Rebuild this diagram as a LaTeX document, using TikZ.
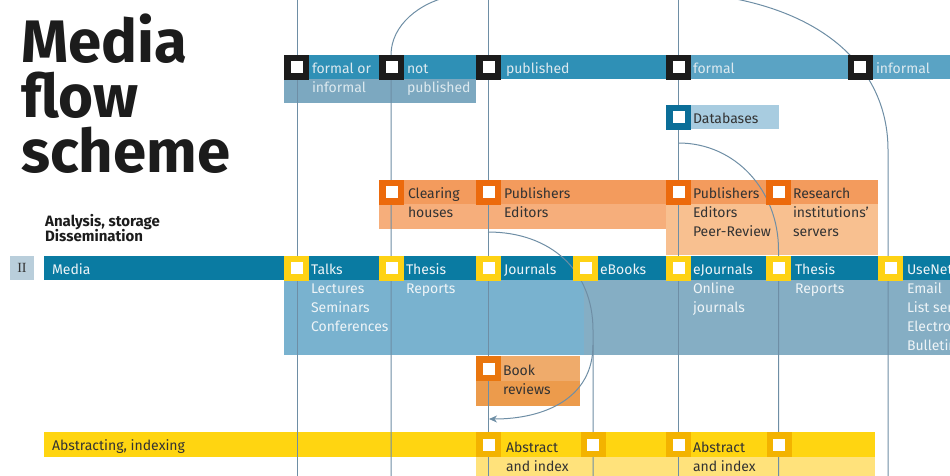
\documentclass[tikz,border=0pt]{standalone}
\usepackage{fontspec}
\setmainfont{Fira Sans}
\newfontfamily\romanfont{Liberation Serif}
\usetikzlibrary{arrows.meta}
\definecolor{linec}{HTML}{6E8EA5}
\definecolor{mediabar}{HTML}{0A7BA2}
\definecolor{topA}{HTML}{2F90B6}
\definecolor{topB}{HTML}{5AA3C4}
\definecolor{toppanel}{HTML}{7CA8C0}
\definecolor{blacksq}{HTML}{1C1C1C}
\definecolor{dbsq}{HTML}{0B6E98}
\definecolor{dbpanel}{HTML}{A8CCE0}
\definecolor{orsq}{HTML}{EC6A0C}
\definecolor{orbar}{HTML}{F39B5D}
\definecolor{orlight}{HTML}{F6AE7B}
\definecolor{orlighter}{HTML}{F8C090}
\definecolor{booksq}{HTML}{E9760E}
\definecolor{bookA}{HTML}{EFAB6B}
\definecolor{bookB}{HTML}{EC9B4C}
\definecolor{ysq}{HTML}{FED214}
\definecolor{mpanelA}{HTML}{79B2CF}
\definecolor{mpanelB}{HTML}{85AEC4}
\definecolor{absbarcol}{HTML}{FFD511}
\definecolor{ysqd}{HTML}{F3B300}
\definecolor{ylight}{HTML}{FFE27B}
\definecolor{iibox}{HTML}{B9CEDB}
\definecolor{darktext}{HTML}{333333}
\definecolor{lighttext}{HTML}{EEF4F7}
\definecolor{toptext}{HTML}{DCE9EF}
\begin{document}
\begin{tikzpicture}[x=1pt,y=-1pt,
  sq/.style={minimum size=25pt, inner sep=0pt, outer sep=0pt, fill=#1, draw=none,
    path picture={\fill[white] ([xshift=-6pt,yshift=-6pt]path picture bounding box.center) rectangle ([xshift=6pt,yshift=6pt]path picture bounding box.center);}},
  txt/.style={anchor=base west, inner sep=0pt, outer sep=0pt, font=\fontsize{14}{17}\selectfont},
  light/.style={txt, text=lighttext},
  toplbl/.style={txt, text=toptext},
  dark/.style={txt, text=darktext},
  flow/.style={draw=linec, line width=1pt}]
\useasboundingbox (0,0) rectangle (950,475);
\clip (0,0) rectangle (950,475);

% ---------- bars and panels ----------
\fill[topA] (309,55) rectangle (666,79);
\fill[topB] (691,55) rectangle (950,79);
\fill[toppanel] (284,79) rectangle (476,103);
\fill[dbpanel] (691,105) rectangle (779,129);
\fill[orbar] (379,180) rectangle (878,204);
\fill[orlight] (379,204) rectangle (666,229);
\fill[orlighter] (666,204) rectangle (878,255);
\fill[mediabar] (44,256) rectangle (950,280);
\fill[mpanelA] (284,280) rectangle (584,355);
\fill[mpanelB] (584,280) rectangle (950,355);
\fill[bookA] (501,356) rectangle (580,381);
\fill[bookB] (476,381) rectangle (580,406);
\fill[fill=absbarcol] (44,432) rectangle (875,457);
\fill[ylight] (476,457) rectangle (875,480);

% ---------- connector end points ----------
\coordinate (aT) at (297,0);   \coordinate (aB) at (297,480);
\coordinate (bS) at (391,55);  \coordinate (bT) at (452,-4); \coordinate (bB) at (391,480);
\coordinate (cT) at (488,0);   \coordinate (cB) at (488,480);
\coordinate (eT) at (678.5,0); \coordinate (eB) at (678.5,480);
\coordinate (gT) at (736,-1);  \coordinate (gM) at (888,150); \coordinate (gB) at (888,480);
\coordinate (fS) at (678.5,143); \coordinate (fM) at (778.5,250); \coordinate (fB) at (778.5,480);
\coordinate (dS) at (488,232); \coordinate (dM) at (593,330); \coordinate (dB) at (593,480);
\coordinate (dK) at (593,345); \coordinate (dA) at (489,419);

% ---------- connectors ----------
\draw[flow] (aT) -- (aB);
\draw[flow] (bT) .. controls (420,2) and (391,25) .. (bS) -- (bB);
\draw[flow] (cT) -- (cB);
\draw[flow] (eT) -- (eB);
\draw[flow] (gT) .. controls (840,20) and (888,80) .. (gM) -- (gB);
\draw[flow] (fS) .. controls (735,143) and (778.5,190) .. (fM) -- (fB);
\draw[flow] (dS) .. controls (550,232) and (593,270) .. (dM) -- (dB);
\draw[flow,-{Stealth[length=8pt,width=7pt,inset=2.5pt]}] (dK) .. controls (593,398) and (545,419) .. (dA);

% ---------- squares ----------
\node[sq=blacksq] (sFormalOr) at (296.5,67) {};
\node[sq=blacksq] (sNot) at (391.5,67) {};
\node[sq=blacksq] (sPublished) at (488.5,67) {};
\node[sq=blacksq] (sFormal) at (678.5,67) {};
\node[sq=blacksq] (sInformal) at (860,67) {};
\node[sq=dbsq] (sDatabases) at (678.5,117) {};
\node[sq=orsq] (sClearing) at (391.5,192) {};
\node[sq=orsq] (sPub1) at (488.5,192) {};
\node[sq=orsq] (sPub2) at (678.5,192) {};
\node[sq=orsq] (sResearch) at (778.5,192) {};
\node[sq=ysq] (sTalks) at (296.5,268) {};
\node[sq=ysq] (sThesis1) at (391.5,268) {};
\node[sq=ysq] (sJournals) at (488.5,268) {};
\node[sq=ysq] (sEBooks) at (585.5,268) {};
\node[sq=ysq] (sEJournals) at (678.5,268) {};
\node[sq=ysq] (sThesis2) at (778.5,268) {};
\node[sq=ysq] (sUseNet) at (890.5,268) {};
\node[sq=booksq] (sBook) at (488.5,368.5) {};
\node[sq=ysqd] (sAbs1) at (488.5,444.5) {};
\node[sq=ysqd] (sAbs2) at (593,444.5) {};
\node[sq=ysqd] (sAbs3) at (678.5,444.5) {};
\node[sq=ysqd] (sAbs4) at (779,444.5) {};

% ---------- title ----------
\node[anchor=base west, inner sep=0pt, font=\bfseries\fontsize{60}{60}\selectfont, text=blacksq] (title1) at (21,62) {Media};
\node[anchor=base west, inner sep=0pt, font=\bfseries\fontsize{60}{60}\selectfont, text=blacksq] (title2) at (21,117) {flow};
\node[anchor=base west, inner sep=0pt, font=\bfseries\fontsize{60}{60}\selectfont, text=blacksq] (title3) at (21,172) {scheme};
\node[anchor=base west, inner sep=0pt, font=\bfseries\fontsize{15}{17}\selectfont, text=blacksq] (sub1) at (45,226) {Analysis, storage};
\node[anchor=base west, inner sep=0pt, font=\bfseries\fontsize{15}{17}\selectfont, text=blacksq] (sub2) at (45,241) {Dissemination};
\node[fill=iibox, minimum width=24pt, minimum height=24pt, inner sep=0pt, font=\romanfont\fontsize{14}{14}\selectfont, text=darktext] (ii) at (22,268) {II};

% ---------- top row texts ----------
\node[toplbl] (tFormalOr) at (312,73) {formal or};
\node[toplbl] (tInformal1) at (312,92) {informal};
\node[toplbl] (tNot) at (407,73) {not};
\node[toplbl] (tNotPub) at (407,92) {published};
\node[toplbl] (tPublished) at (506,73) {published};
\node[toplbl] (tFormal) at (693,73) {formal};
\node[toplbl] (tInformal) at (876,73) {informal};
\node[dark] (tDatabases) at (693,123) {Databases};

% ---------- orange row texts ----------
\node[dark] (tClearing) at (408,198) {Clearing};
\node[dark] (tHouses) at (408,217) {houses};
\node[dark] (tPub1) at (504,198) {Publishers};
\node[dark] (tEd1) at (504,217) {Editors};
\node[dark] (tPub2) at (693,198) {Publishers};
\node[dark] (tEd2) at (693,217) {Editors};
\node[dark] (tPeer) at (693,236) {Peer-Review};
\node[dark] (tResearch) at (793,198) {Research};
\node[dark] (tInst) at (793,217) {institutions’};
\node[dark] (tServers) at (793,236) {servers};

% ---------- media row texts ----------
\node[light] (tMedia) at (52,274) {Media};
\node[light] (tTalks) at (311,274) {Talks};
\node[light] (tLect) at (311,293) {Lectures};
\node[light] (tSem) at (311,312) {Seminars};
\node[light] (tConf) at (311,331) {Conferences};
\node[light] (tThesis1) at (406,274) {Thesis};
\node[light] (tRep1) at (406,293) {Reports};
\node[light] (tJournals) at (504,274) {Journals};
\node[light] (tEBooks) at (600,274) {eBooks};
\node[light] (tEJournals) at (693,274) {eJournals};
\node[light] (tOnline) at (693,293) {Online};
\node[light] (tOJ) at (693,312) {journals};
\node[light] (tThesis2) at (795,274) {Thesis};
\node[light] (tRep2) at (795,293) {Reports};
\node[light] (tUseNet) at (907,274) {UseNet};
\node[light] (tEmail) at (907,293) {Email};
\node[light] (tList) at (907,312) {List servers};
\node[light] (tElec) at (907,331) {Electronic};
\node[light] (tBull) at (907,350) {Bulletin boards};

% ---------- book reviews ----------
\node[dark] (tBook) at (503,375) {Book};
\node[dark] (tReviews) at (503,394) {reviews};

% ---------- abstracting row ----------
\node[dark] (tAbsIdx) at (52,450) {Abstracting, indexing};
\node[dark] (tAbs1) at (506,452) {Abstract};
\node[dark] (tAnd1) at (506,471) {and index};
\node[dark] (tAbs2) at (693,452) {Abstract};
\node[dark] (tAnd2) at (693,471) {and index};
\end{tikzpicture}
\end{document}
